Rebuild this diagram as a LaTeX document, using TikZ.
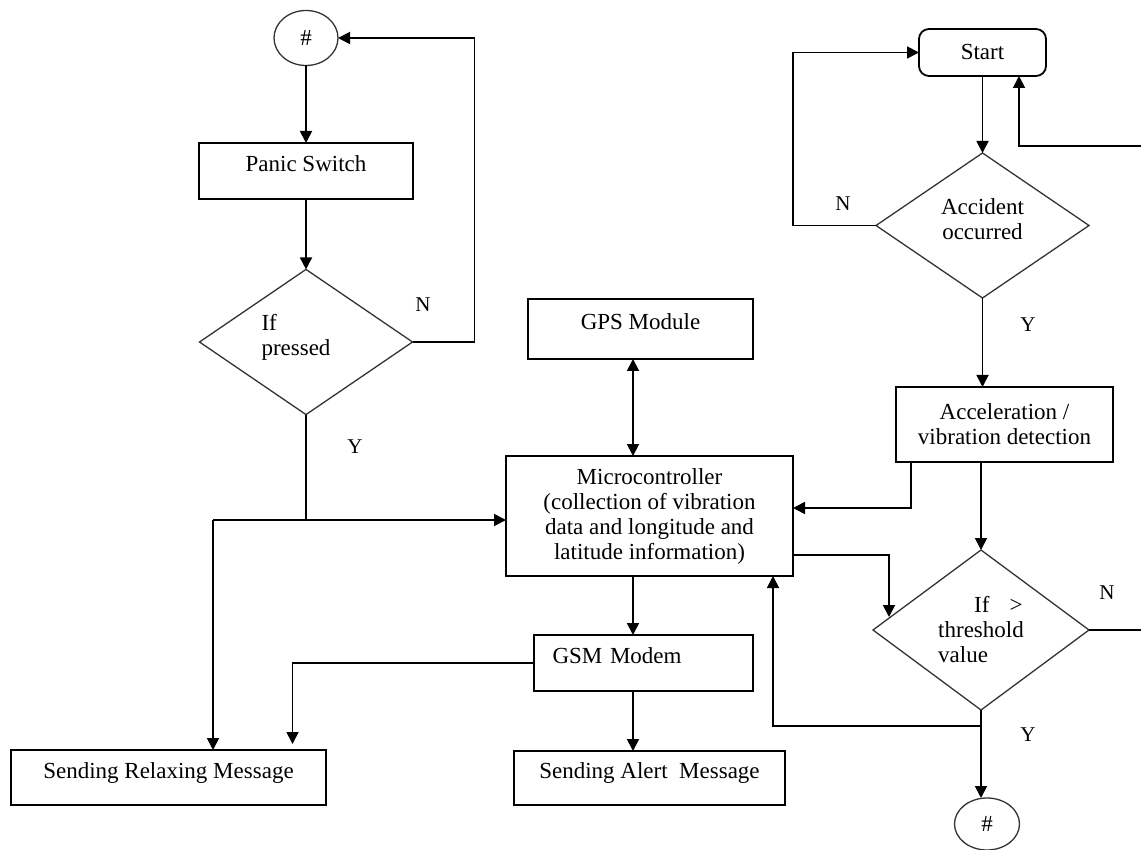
\documentclass[tikz,border=0pt]{standalone}
\usepackage{fontspec}
\setmainfont{Liberation Serif}
\usetikzlibrary{shapes.geometric,arrows.meta}

\begin{document}
\begin{tikzpicture}[x=0.5pt,y=-0.5pt,line width=0.9pt,
  >={Triangle[length=6pt,width=6pt]},
  font=\fontsize{11.5}{12.5}\selectfont,
  box/.style={draw,rectangle,inner sep=2pt,outer sep=0pt},
  raised/.style={text depth=7pt},
  decision/.style={draw=black!80,diamond,inner sep=0pt,outer sep=0pt,line width=0.65pt},
  hashnode/.style={draw=black!80,ellipse,inner sep=0pt,outer sep=0pt,line width=0.65pt}]
  \useasboundingbox (0,0) rectangle (1141,850);

  % panic switch side
  \node[hashnode,minimum width=32pt,minimum height=27.5pt] (hashtop) at (306,38) {\#};
  \node[box,raised,minimum width=107pt,minimum height=28pt] (panic) at (306,171) {Panic Switch};
  \node[decision,minimum width=106.5pt,minimum height=72.5pt,align=left,text depth=7.5pt] (pressed) at (306,342)
    {If\\pressed\hspace*{10pt}};
  \node[box,raised,minimum width=157.5pt,minimum height=27.5pt] (relax) at (168.5,777.5) {Sending Relaxing Message};

  % middle column
  \node[box,raised,minimum width=112.5pt,minimum height=30pt] (gps) at (640.5,329) {GPS Module};
  \node[box,align=center,minimum width=143.5pt,minimum height=60pt] (micro) at (649.5,516)
    {Microcontroller\\(collection of vibration\\data and longitude and\\latitude information)};
  \node[box,raised,align=left,text width=91pt,inner xsep=9pt,minimum width=109.5pt,minimum height=28pt] (gsm) at (643.5,663) {GSM Modem};
  \node[box,raised,minimum width=135.5pt,minimum height=27pt] (alert) at (649.5,778) {Sending Alert~ Message};

  % accident side
  \node[box,rounded corners=5pt,minimum width=63.5pt,minimum height=23.5pt] (start) at (982.5,52.5) {Start};
  \node[decision,minimum width=106.5pt,minimum height=72.5pt,align=center,text depth=6pt] (accident) at (982.5,225.5)
    {Accident\\occurred};
  \node[box,align=center,minimum width=108.5pt,minimum height=37.5pt] (accel) at (1004.5,424.5) {Acceleration /\\vibration detection};
  \node[decision,minimum width=108pt,minimum height=80pt,align=left] (thresh) at (981,630)
    {\hspace*{18pt}If\hspace{10pt}>\\threshold\\value};
  \node[hashnode,minimum width=32.5pt,minimum height=26pt] (hashbot) at (987,824) {\#};

  \coordinate (yfork) at (213,520);
  \coordinate (busx) at (633,0);
  \coordinate (rtop) at (1141,146);
  \coordinate (redge) at (1141,0);
  \coordinate (tfork) at (981,726);
  \coordinate (tin) at (889,617);

  % connectors left
  \draw[->] (hashtop.south) -- (panic.north);
  \draw[->] (panic.south) -- (pressed.north);
  \draw[->] (pressed.east) -- ++(62,0) |- (hashtop.east);
  \draw (pressed.south) -- (pressed.south |- yfork);
  \draw[->] (yfork) -- (micro.west |- yfork);
  \draw[->] (yfork) -- (relax.north -| yfork);
  % connectors middle
  \draw[<->] (gps.south -| busx) -- (micro.north -| busx);
  \draw[->] (micro.south -| busx) -- (gsm.north -| busx);
  \draw[->] (gsm.south -| busx) -- (alert.north -| busx);
  \draw[->] (gsm.west) -| ([xshift=62pt,yshift=3pt]relax.north);
  % connectors right
  \draw[->] (start.south) -- (accident.north);
  \draw[->] (accident.west) -- ++(-83,0) |- (start.west);
  \draw[->] (rtop) -| ([xshift=18.25pt]start.south);
  \draw[->] (accident.south) -- (accident.south |- accel.north);
  \draw[->] ([xshift=-46.75pt]accel.south) |- ([yshift=4pt]micro.east);
  \draw[->] (accel.south -| thresh.north) -- (thresh.north);
  \draw[->] ([yshift=-19.5pt]micro.east) -| (tin);
  \draw (thresh.east) -- (thresh.east -| redge);
  \draw[->] (thresh.south) -- (thresh.south |- hashbot.north);
  \draw[->] (tfork) -| ([xshift=61.75pt]micro.south);

  % N / Y labels
  \foreach \x/\y/\t [count=\i] in {423/305/N, 355/447/Y, 843/204/N, 1028/325/Y, 1107/593/N, 1028/735/Y}
    \node[font=\fontsize{10.5}{12}\selectfont] (lbl\i) at (\x,\y) {\t};
\end{tikzpicture}
\end{document}
